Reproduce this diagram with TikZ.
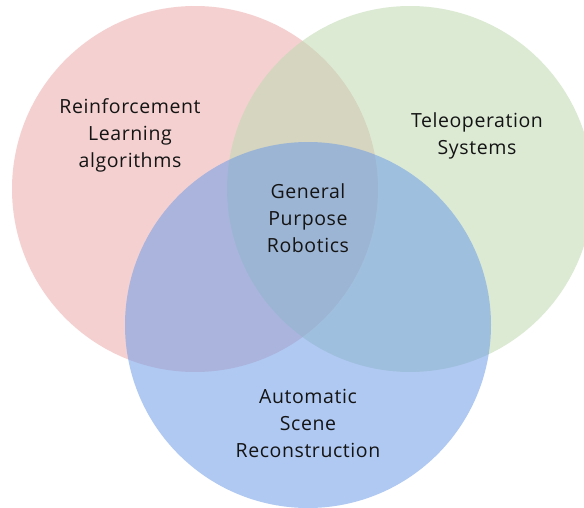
\documentclass[tikz,border=0pt]{standalone}
\usepackage{fontspec}
\setmainfont[Ligatures={NoCommon,NoDiscretionary,NoRare},LetterSpace=3]{Open Sans}
\definecolor{setred}{RGB}{235,170,170}
\definecolor{setgreen}{RGB}{191,217,177}
\definecolor{setblue}{RGB}{111,157,231}
\definecolor{labeltext}{RGB}{20,20,20}
\begin{document}
\begin{tikzpicture}[x=1pt,y=-1pt,
  setcircle/.style={circle,minimum size=366pt,inner sep=0pt,fill opacity=0.55,text opacity=1},
  setlabel/.style={align=center,text=labeltext,font=\fontsize{19.5}{27}\selectfont}]
  \useasboundingbox (0,0) rectangle (584,508);
  % the three sets
  \node[setcircle,fill=setred] (rl) at (195,189) {};
  \node[setcircle,fill=setgreen] (tele) at (410,189) {};
  \node[setcircle,fill=setblue] (scene) at (308,325) {};
  % labels
  \node[setlabel] (rllabel) at (130,135) {Reinforcement\\Learning\\algorithms};
  \node[setlabel] (telelabel) at (477,136) {Teleoperation\\Systems};
  \node[setlabel] (center) at (308,218) {General\\Purpose\\Robotics};
  \node[setlabel] (scenelabel) at (308,423) {Automatic\\Scene\\Reconstruction};
\end{tikzpicture}
\end{document}
